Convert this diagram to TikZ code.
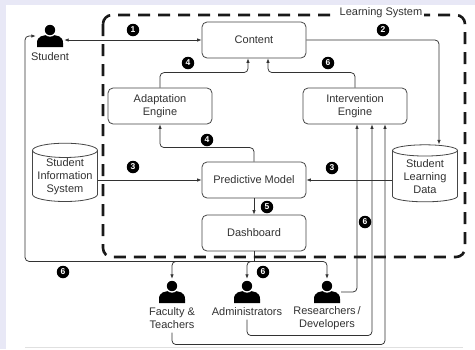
\documentclass[tikz,border=0pt]{standalone}
\usepackage{fontspec}
\setmainfont{Liberation Sans}
\usetikzlibrary{arrows.meta,shapes.geometric}
\definecolor{lavender}{RGB}{232,232,246}
\definecolor{inkgray}{RGB}{50,50,50}
\definecolor{boxgray}{RGB}{70,70,70}
\tikzstyle{block} = [rectangle, draw=boxgray, line width=0.8pt, rounded corners=5pt, text=inkgray,
    minimum width=104pt, minimum height=36pt, align=center]
\tikzstyle{store} = [cylinder, shape border rotate=90, draw=boxgray, line width=0.8pt, aspect=0.25,
    minimum width=65pt, minimum height=57pt, align=center, text=inkgray, inner sep=1pt]
\tikzstyle{line} = [draw=inkgray, line width=0.75pt, rounded corners=4pt, ->]
\tikzstyle{num} = [circle, fill=black, text=white, inner sep=0pt, minimum size=12.5pt,
    font=\fontsize{8.5}{9}\selectfont\bfseries]
\tikzstyle{who} = [align=center, text=inkgray]
\tikzstyle{border} = [draw=black!90, line width=2.6pt, dash pattern=on 12pt off 8pt, rounded corners=9pt]
\tikzstyle{person} = [minimum width=28pt, minimum height=26pt, inner sep=0pt, path picture={
    \fill[black, shift={(path picture bounding box.center)}] (-13,11) -- (-13,7)
      .. controls (-13,0) and (-7,-1) .. (0,-1) .. controls (7,-1) and (13,0) .. (13,7) -- (13,11) -- cycle;
    \filldraw[fill=black, draw=white, line width=1.3pt, shift={(path picture bounding box.center)}] (0,-6) circle (6pt);
    }]

\begin{document}
\begin{tikzpicture}[x=1pt, y=-1pt, font=\fontsize{11}{13}\selectfont,
    >={Latex[length=4.5pt,width=3.5pt]}]

% Page
\useasboundingbox (0,0) rectangle (475,349);
\fill[lavender] (0,0) rectangle (475,349);
\fill[white] (6,5) rectangle (475,349);
\draw[black!12] (25,347.5) -- (463,347.5);

% Boxes
\node[block] (content) at (254,40) {Content};
\node[block] (adapt) at (160,106) {Adaptation\\Engine};
\node[block] (interv) at (355,106) {Intervention\\Engine};
\node[block] (predict) at (254,180) {Predictive Model};
\node[block] (dash) at (254,233) {Dashboard};

% Data stores
\node[store] (sis) at (65,177) {Student\\Information\\System};
\node[store] (sld) at (425,177) {Student\\Learning\\Data};

% People
\node[person] (student) at (50,36) {};
\node[who] (studentlabel) at (50,57) {Student};
\node[person] (faculty) at (172,292) {};
\node[who] (facultylabel) at (172,318.5) {Faculty \&\\Teachers};
\node[person] (admin) at (247,292) {};
\node[who] (adminlabel) at (247,312) {Administrators};
\node[person] (research) at (327,292) {};
\node[who] (researchlabel) at (327,318.5) {Researchers\,/\\Developers};

% Arrows inside the system
\draw[line, <->] (student.east |- content.west) -- (content.west);
\draw[line] (content.east) -| ([xshift=14pt]sld.north);
\draw[line] (adapt.north) -- ++(0,-15) -| ([xshift=-6pt]content.south);
\draw[line] (interv.north) -- ++(0,-15) -| ([xshift=14pt]content.south);
\draw[line] (predict.north) -- ++(0,-14) -| (adapt.south);
\draw[line] (sis.east |- predict.west) -- (predict.west);
\draw[line] (sld.west |- predict.east) -- (predict.east);
\draw[line] (predict) -- (dash);

% Dashboard outputs
\coordinate (split) at ([yshift=-10pt]dash.south);
\coordinate (rail) at (25,0);
\draw[line, -] (dash.south) -- (split);
\draw[line] (split) -| (faculty.north);
\draw[line] (split) -| (admin.north);
\draw[line] (split) -| (research.north);
\draw[line] (split) -| (rail |- student.west) -- (student.west);

% Feedback to intervention
\draw[line] (research.east) -| ([xshift=2pt]interv.south);
\draw[line] (adminlabel.south) -- ++(0,16) -| ([xshift=17pt]interv.south);
\draw[line] (facultylabel.south) -- ++(0,12) -| ([xshift=30pt]interv.south);

% Learning system border
\draw[border] (103,15) rectangle (465,257);
\node[fill=white, inner sep=2pt, text=inkgray] (systitle) at (381,13) {Learning System};

% Step numbers
\node[num] (n1) at (133,30) {1};
\node[num] (n2) at (383,30) {2};
\node[num] (n4a) at (188,63) {4};
\node[num] (n6a) at (328,63) {6};
\node[num] (n4b) at (207,140) {4};
\node[num] (n3a) at (133,167) {3};
\node[num] (n3b) at (332,168) {3};
\node[num] (n5) at (267,207) {5};
\node[num] (n6b) at (365,222) {6};
\node[num] (n6c) at (263,272) {6};
\node[num] (n6d) at (63,272) {6};

\end{tikzpicture}
\end{document}
